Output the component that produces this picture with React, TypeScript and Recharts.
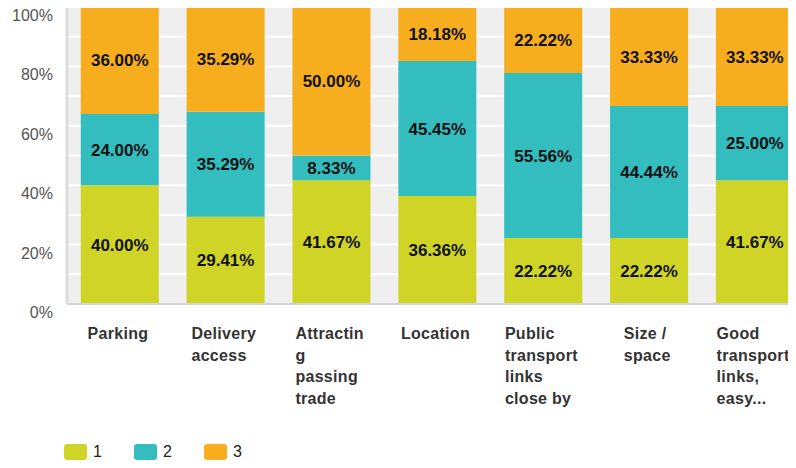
import React from 'react'
import { Bar, BarChart, CartesianGrid, LabelList, Legend, XAxis, YAxis } from 'recharts'

const categories = [
  'Parking',
  'Delivery access',
  'Attracting passing trade',
  'Location',
  'Public transport links close by',
  'Size / space',
  'Good transport links, easy...'
]

// wrapped the way the original axis shows them
const tickLines = [
  ['Parking'],
  ['Delivery', 'access'],
  ['Attractin', 'g', 'passing', 'trade'],
  ['Location'],
  ['Public', 'transport', 'links', 'close by'],
  ['Size /', 'space'],
  ['Good', 'transport', 'links,', 'easy...']
]

const series1 = [40.0, 29.41, 41.67, 36.36, 22.22, 22.22, 41.67]
const series2 = [24.0, 35.29, 8.33, 45.45, 55.56, 44.44, 25.0]
const series3 = [36.0, 35.29, 50.0, 18.18, 22.22, 33.33, 33.33]

const yTicks = [0, 10, 20, 30, 40, 50, 60, 70, 80, 90, 100]

const colors = { s1: '#cfd427', s2: '#33bdbf', s3: '#f6ae1f' }

const data = categories.map((name, i) => ({
  name,
  s1: series1[i],
  s2: series2[i],
  s3: series3[i]
}))

const xFont = 'bold 16px "Liberation Sans", Arial, sans-serif'
const xSpacing = 0.3

let ctx: CanvasRenderingContext2D | null = null
function measure(text: string) {
  if (!ctx) ctx = document.createElement('canvas').getContext('2d')
  if (!ctx) return text.length * 8
  ctx.font = xFont
  return ctx.measureText(text).width + xSpacing * text.length
}

function XTick(props: any) {
  const { x, y, index } = props
  const lines = tickLines[index] || []
  const w = Math.max(...lines.map(measure))
  return (
    <g>
      {lines.map((l, i) => (
        <text
          key={i}
          x={x - w / 2 - 2}
          y={y + 27 + i * 21.5}
          textAnchor='start'
          fill='#333'
          style={{ font: xFont, letterSpacing: xSpacing }}
        >
          {l}
        </text>
      ))}
    </g>
  )
}

function YTick(props: any) {
  const { y, payload } = props
  if (payload.value % 20 !== 0) return null
  return (
    <text x={53} y={y + 14} textAnchor='end' fill='#555' fontSize={16} fontFamily='"Liberation Sans", Arial, sans-serif'>
      {payload.value}%
    </text>
  )
}

function LegendBox() {
  const items = [
    { label: '1', color: colors.s1 },
    { label: '2', color: colors.s2 },
    { label: '3', color: colors.s3 }
  ]
  return (
    <div style={{ display: 'flex', height: 24, alignItems: 'center', paddingLeft: 64 }}>
      {items.map((it) => (
        <div key={it.label} style={{ display: 'flex', alignItems: 'center', width: 70 }}>
          <div style={{ width: 23, height: 16, borderRadius: 3, background: it.color, marginRight: 6 }} />
          <span style={{ fontFamily: '"Liberation Sans", Arial, sans-serif', fontSize: 16, color: '#222' }}>{it.label}</span>
        </div>
      ))}
    </div>
  )
}

const fmt = (v: any) => Number(v).toFixed(2) + '%'
const labelStyle = { fill: '#111', fontSize: 17, fontWeight: 'bold', fontFamily: '"Liberation Sans", Arial, sans-serif' }

export default function App() {
  return (
    <div style={{ margin: -8, width: 796, height: 468, overflow: 'hidden', position: 'relative', background: '#fff' }}>
      <BarChart
        width={812}
        height={468}
        data={data}
        margin={{ top: 7, right: 4, bottom: 4, left: 0 }}
        barCategoryGap='13%'
      >
        <CartesianGrid vertical={false} stroke='#ffffff' strokeWidth={2} fill='#efefef' />
        <XAxis
          dataKey='name'
          height={136}
          interval={0}
          tickLine={false}
          axisLine={{ stroke: '#d4d4d4', strokeWidth: 2 }}
          tick={<XTick />}
        />
        <YAxis
          width={67}
          domain={[0, 100]}
          ticks={yTicks}
          interval={0}
          tickLine={false}
          axisLine={{ stroke: '#dcdcdc', strokeWidth: 3 }}
          tick={<YTick />}
        />
        <Legend verticalAlign='bottom' align='left' content={<LegendBox />} />
        <Bar dataKey='s1' name='1' stackId='a' fill={colors.s1} isAnimationActive={false}>
          <LabelList dataKey='s1' position='center' formatter={fmt} style={labelStyle} />
        </Bar>
        <Bar dataKey='s2' name='2' stackId='a' fill={colors.s2} isAnimationActive={false}>
          <LabelList dataKey='s2' position='center' formatter={fmt} style={labelStyle} />
        </Bar>
        <Bar dataKey='s3' name='3' stackId='a' fill={colors.s3} isAnimationActive={false}>
          <LabelList dataKey='s3' position='center' formatter={fmt} style={labelStyle} />
        </Bar>
      </BarChart>
    </div>
  )
}
